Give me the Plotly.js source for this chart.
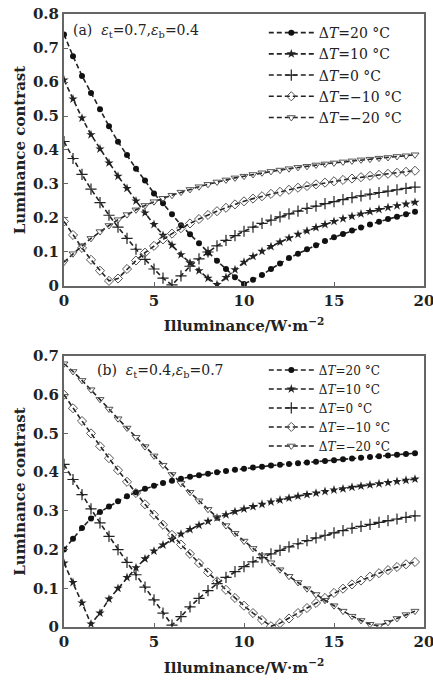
<!DOCTYPE html>
<html>
<head>
<meta charset="utf-8">
<script src="https://cdn.plot.ly/plotly-3.0.1.min.js"></script>
<style>html,body{margin:0;padding:0;background:#fff;}#chart{width:433px;height:682px;}</style>
</head>
<body>
<div id="chart"></div>
<script>
// Illuminance (W·m^-2) sample points
const illuminance = [0,0.5,1,1.5,2,2.5,3,3.5,4,4.5,5,5.5,6,6.5,7,7.5,8,8.5,9,9.5,10,10.5,11,11.5,12,12.5,13,13.5,14,14.5,15,15.5,16,16.5,17,17.5,18,18.5,19,19.5];

// Series names
const seriesNames = ["Δ<i>T</i>=20 °C","Δ<i>T</i>=10 °C","Δ<i>T</i>=0 °C","Δ<i>T</i>=−10 °C","Δ<i>T</i>=−20 °C"];

// (a) εt=0.7, εb=0.4
const a_dT20  = [0.74,0.676,0.618,0.568,0.52,0.47,0.424,0.385,0.345,0.31,0.272,0.243,0.211,0.179,0.152,0.126,0.098,0.074,0.05,0.026,0.006,0.018,0.032,0.05,0.066,0.082,0.095,0.108,0.12,0.132,0.143,0.153,0.163,0.172,0.181,0.189,0.197,0.204,0.211,0.218];
const a_dT10  = [0.606,0.55,0.494,0.445,0.403,0.362,0.323,0.287,0.25,0.215,0.181,0.149,0.12,0.092,0.068,0.045,0.023,0.004,0.025,0.048,0.07,0.087,0.102,0.116,0.129,0.141,0.152,0.162,0.172,0.181,0.19,0.198,0.205,0.212,0.219,0.225,0.231,0.236,0.241,0.246];
const a_dT0   = [0.425,0.375,0.328,0.285,0.245,0.208,0.173,0.14,0.108,0.078,0.05,0.023,0.003,0.03,0.058,0.08,0.1,0.118,0.134,0.148,0.161,0.173,0.184,0.194,0.203,0.212,0.22,0.228,0.235,0.242,0.248,0.254,0.26,0.265,0.27,0.275,0.279,0.283,0.287,0.291];
const a_dTm10 = [0.19,0.15,0.112,0.077,0.045,0.015,0.022,0.05,0.075,0.098,0.118,0.137,0.154,0.17,0.184,0.197,0.209,0.22,0.23,0.24,0.249,0.257,0.264,0.271,0.277,0.283,0.289,0.294,0.299,0.304,0.308,0.312,0.316,0.32,0.324,0.327,0.33,0.333,0.336,0.339];
const a_dTm20 = [0.07,0.095,0.118,0.14,0.16,0.178,0.195,0.21,0.224,0.237,0.248,0.258,0.267,0.276,0.284,0.292,0.299,0.306,0.312,0.318,0.323,0.328,0.333,0.337,0.341,0.345,0.349,0.352,0.356,0.359,0.362,0.365,0.368,0.371,0.373,0.376,0.378,0.381,0.383,0.386];

// (b) εt=0.4, εb=0.7
const b_dT20  = [0.2,0.228,0.256,0.28,0.297,0.311,0.325,0.338,0.348,0.357,0.365,0.372,0.378,0.383,0.388,0.392,0.396,0.4,0.403,0.406,0.409,0.412,0.414,0.417,0.419,0.421,0.423,0.425,0.427,0.429,0.431,0.433,0.435,0.437,0.439,0.441,0.443,0.445,0.447,0.449];
const b_dT10  = [0.165,0.115,0.062,0.008,0.036,0.072,0.1,0.128,0.153,0.176,0.196,0.212,0.226,0.24,0.252,0.263,0.273,0.282,0.29,0.298,0.305,0.311,0.317,0.323,0.328,0.333,0.338,0.342,0.346,0.35,0.354,0.357,0.361,0.364,0.367,0.37,0.373,0.376,0.379,0.382];
const b_dT0   = [0.42,0.381,0.342,0.305,0.269,0.234,0.2,0.167,0.135,0.103,0.07,0.036,0.005,0.027,0.052,0.074,0.094,0.112,0.128,0.143,0.156,0.168,0.179,0.189,0.198,0.207,0.215,0.223,0.23,0.237,0.243,0.249,0.255,0.26,0.265,0.27,0.275,0.279,0.283,0.287];
const b_dTm10 = [0.6,0.565,0.532,0.5,0.467,0.436,0.405,0.375,0.346,0.317,0.29,0.264,0.238,0.213,0.189,0.165,0.141,0.118,0.096,0.075,0.055,0.036,0.018,0.002,0.01,0.022,0.036,0.049,0.062,0.075,0.088,0.099,0.11,0.12,0.13,0.139,0.147,0.155,0.162,0.168];
const b_dTm20 = [0.68,0.66,0.637,0.613,0.588,0.563,0.538,0.514,0.49,0.466,0.442,0.418,0.394,0.371,0.348,0.326,0.304,0.283,0.262,0.242,0.222,0.203,0.184,0.166,0.148,0.131,0.115,0.099,0.084,0.069,0.055,0.041,0.028,0.017,0.007,0.003,0.012,0.022,0.032,0.041];

// Tick labels
const xTicks = [0,5,10,15,20];
const xTickText = ["0","5","10","15","20"];
const yTicksA = [0,0.1,0.2,0.3,0.4,0.5,0.6,0.7,0.8];
const yTickTextA = ["0","0.1","0.2","0.3","0.4","0.5","0.6","0.7","0.8"];
const yTicksB = [0,0.1,0.2,0.3,0.4,0.5,0.6,0.7];
const yTickTextB = ["0","0.1","0.2","0.3","0.4","0.5","0.6","0.7"];

const SERIF = '"DejaVu Serif", "Liberation Serif", serif';
const markerStyles = [
  {symbol:'circle', size:6, color:'#111', line:{width:0}},
  {symbol:'star', size:7, color:'#222', line:{width:0}},
  {symbol:'cross-thin-open', size:8, color:'#222', line:{width:1.2, color:'#222'}},
  {symbol:'diamond-open', size:7, color:'#555', line:{width:1, color:'#555'}},
  {symbol:'triangle-down-open', size:7, color:'#555', line:{width:1, color:'#555'}}
];

function mk(y, i, xa, ya, leg) {
  return {
    x: illuminance, y: y, xaxis: xa, yaxis: ya, legend: leg,
    type: 'scatter', mode: 'lines+markers', name: seriesNames[i],
    line: {color: '#222', width: 1.6, dash: '5px,3px'},
    marker: markerStyles[i]
  };
}

const data = [
  mk(a_dT20,0,'x','y','legend'), mk(a_dT10,1,'x','y','legend'), mk(a_dT0,2,'x','y','legend'),
  mk(a_dTm10,3,'x','y','legend'), mk(a_dTm20,4,'x','y','legend'),
  mk(b_dT20,0,'x2','y2','legend2'), mk(b_dT10,1,'x2','y2','legend2'), mk(b_dT0,2,'x2','y2','legend2'),
  mk(b_dTm10,3,'x2','y2','legend2'), mk(b_dTm20,4,'x2','y2','legend2')
];

const axBase = {
  showgrid: false, zeroline: false, showline: true, mirror: true,
  linecolor: '#666', linewidth: 2, ticks: 'inside', ticklen: 4, tickcolor: '#666',
  ticklabeloverflow: 'allow',
  tickfont: {family: SERIF, size: 15, color: '#222', weight: 'bold'}
};
const xTitle = {text: 'Illuminance/W·m<sup>−2</sup>', font: {family: SERIF, size: 15, color: '#222', weight: 'bold'}, standoff: 12};
const yTitle = {text: 'Luminance contrast', font: {family: SERIF, size: 15, color: '#222', weight: 'bold'}, standoff: 4};

const legBase = {
  bgcolor: 'rgba(0,0,0,0)', borderwidth: 0, itemwidth: 45,
  font: {family: SERIF, size: 14, color: '#222'},
  xanchor: 'left', yanchor: 'top', tracegroupgap: 0
};

const layout = {
  width: 433, height: 682,
  margin: {l: 64, r: 9, t: 14, b: 55},
  paper_bgcolor: '#fff', plot_bgcolor: '#fff',
  showlegend: true,
  xaxis: Object.assign({}, axBase, {domain: [0,1], anchor: 'y', range: [0,20], tickvals: xTicks, ticktext: xTickText, title: xTitle}),
  yaxis: Object.assign({}, axBase, {domain: [0.5563,1], anchor: 'x', range: [0,0.8], tickvals: yTicksA, ticktext: yTickTextA, title: yTitle}),
  xaxis2: Object.assign({}, axBase, {domain: [0,1], anchor: 'y2', range: [0,20], tickvals: xTicks, ticktext: xTickText, title: xTitle}),
  yaxis2: Object.assign({}, axBase, {domain: [0,0.4421], anchor: 'x2', range: [0,0.7], tickvals: yTicksB, ticktext: yTickTextB, title: yTitle}),
  legend: Object.assign({}, legBase, {x: 0.555, y: 0.995}),
  legend2: Object.assign({}, legBase, {x: 0.555, y: 0.443, font: {family: SERIF, size: 12, color: '#222'}}),
  annotations: [
    {xref: 'paper', yref: 'paper', x: 0.02, y: 0.99, xanchor: 'left', yanchor: 'top', showarrow: false,
     text: '(a)  <i>ε</i><sub>t</sub>=0.7,<i>ε</i><sub>b</sub>=0.4', font: {family: SERIF, size: 14, color: '#222'}},
    {xref: 'paper', yref: 'paper', x: 0.085, y: 0.435, xanchor: 'left', yanchor: 'top', showarrow: false,
     text: '(b)  <i>ε</i><sub>t</sub>=0.4,<i>ε</i><sub>b</sub>=0.7', font: {family: SERIF, size: 14, color: '#222'}}
  ]
};

Plotly.newPlot('chart', data, layout, {displayModeBar: false, staticPlot: true});
</script>
</body>
</html>
